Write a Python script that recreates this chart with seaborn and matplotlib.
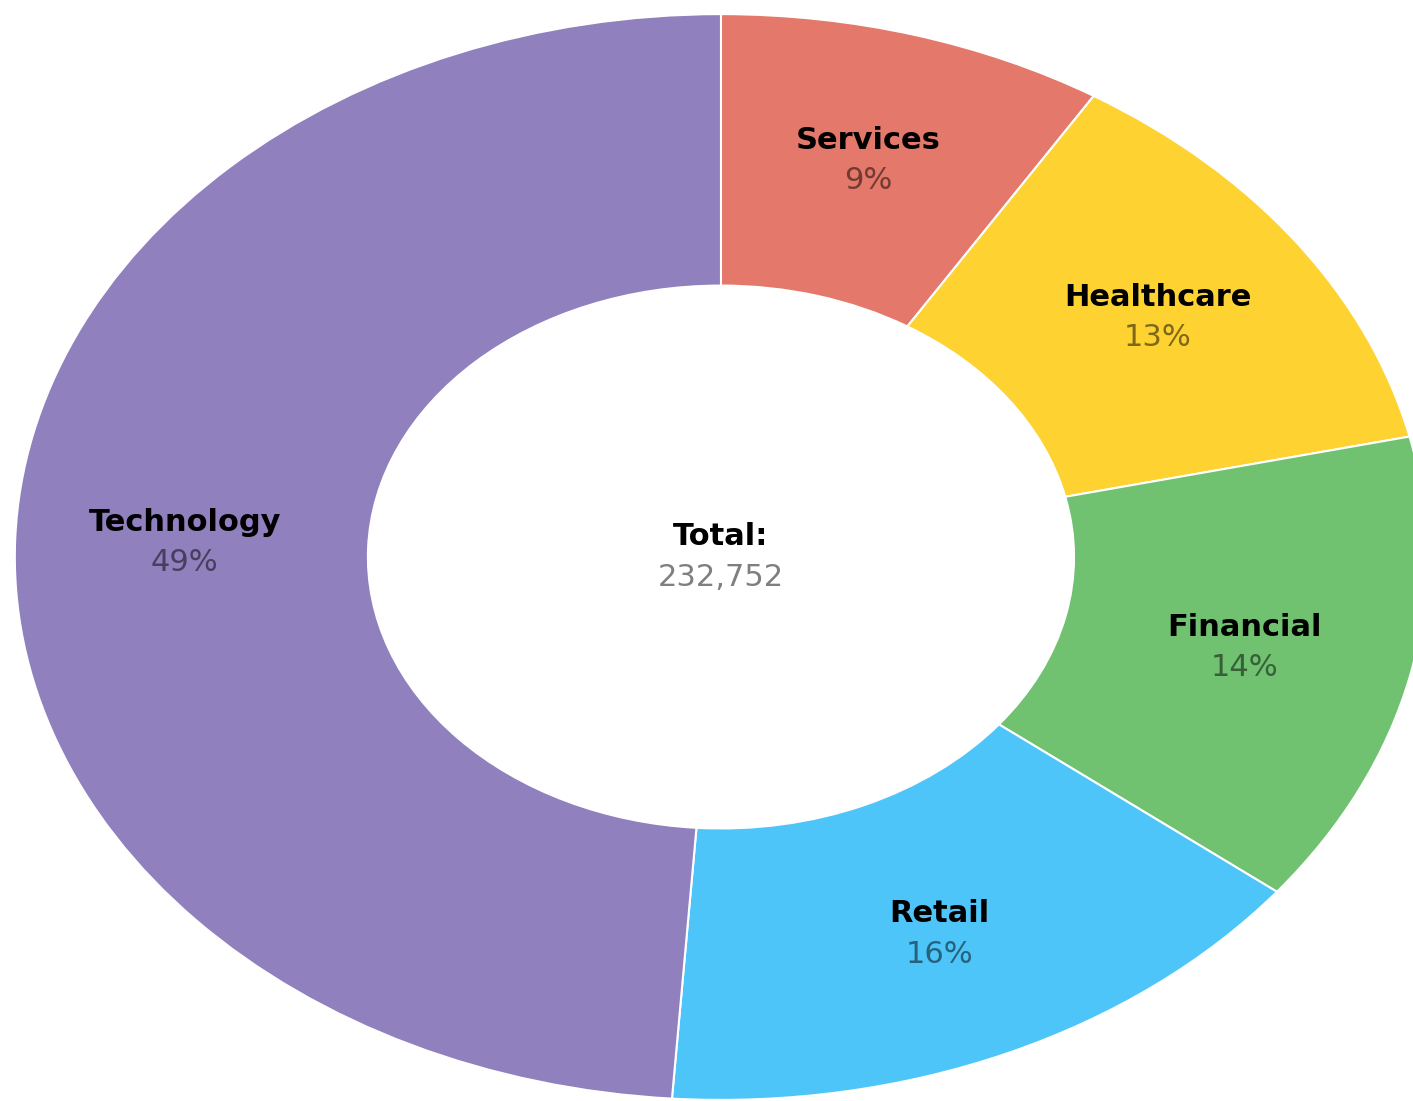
"""Donut chart of totals by sector."""

import matplotlib.pyplot as plt
import numpy as np
import seaborn as sns

plt.switch_backend('agg')

# data, in clockwise order from the top
sectors = ['Services', 'Healthcare', 'Financial', 'Retail', 'Technology']
values = [20600, 29300, 32900, 36150, 113802]
sector_colors = ['#E4786A', '#FDD231', '#70C271', '#4EC5F8', '#9080BE']

LABEL_RADIUS = 0.76
RING_WIDTH = 0.5
NAME_SIZE = 22
PCT_SIZE = 22

sns.set_theme(style='white')
plt.rcParams['font.family'] = ['DejaVu Sans']
palette = sns.color_palette(sector_colors)

fig = plt.figure(figsize=(14.13, 11.01), dpi=100)
ax = fig.add_axes([0, 0, 1, 1])

wedges, _ = ax.pie(values, colors=palette, startangle=90, counterclock=False,
                   radius=1.0,
                   wedgeprops=dict(width=RING_WIDTH, edgecolor='white', linewidth=1.5))

total = sum(values)
for wedge, name, value in zip(wedges, sectors, values):
    mid = np.deg2rad((wedge.theta1 + wedge.theta2) / 2)
    x = LABEL_RADIUS * np.cos(mid)
    y = LABEL_RADIUS * np.sin(mid)
    ax.annotate(name, (x, y), xytext=(0, 14.5), textcoords='offset points',
                ha='center', va='center', fontsize=NAME_SIZE, fontweight='bold',
                color='black')
    ax.annotate('{:.0f}%'.format(100 * value / total), (x, y), xytext=(0, -14.5),
                textcoords='offset points', ha='center', va='center',
                fontsize=PCT_SIZE, color='black', alpha=0.5)

ax.annotate('Total:', (0, 0), xytext=(0, 15), textcoords='offset points',
            ha='center', va='center', fontsize=NAME_SIZE, fontweight='bold', color='black')
ax.annotate('{:,}'.format(total), (0, 0), xytext=(0, -15), textcoords='offset points',
            ha='center', va='center', fontsize=PCT_SIZE, color='black', alpha=0.5)

# stretched ellipse, centred a little left of the figure middle
ax.set_aspect('auto')
ax.set_xlim(-1.021, 0.980)
ax.set_ylim(-1.002, 1.026)
ax.axis('off')

fig.savefig('out.png', dpi=100)
